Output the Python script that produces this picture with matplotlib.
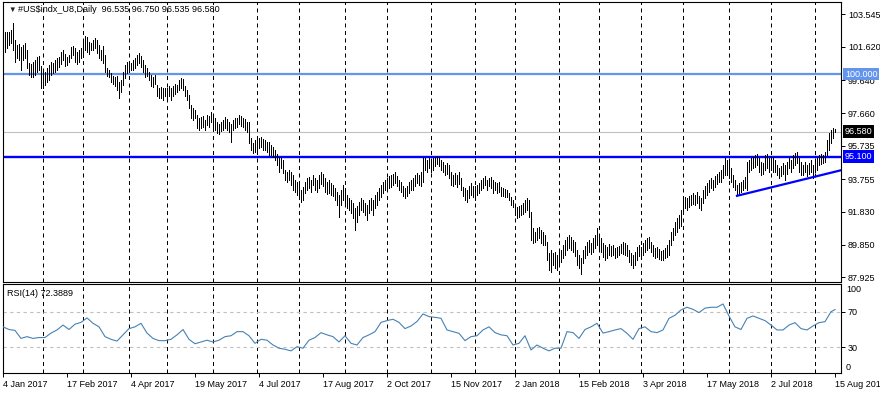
import numpy as np
import pandas as pd
import matplotlib
matplotlib.use("Agg")
import matplotlib.pyplot as plt
import matplotlib.transforms as mtransforms

plt.rcParams['font.family'] = ['Liberation Sans', 'DejaVu Sans']

# trading days shown on the chart (futures closed on these days)
holidays = ['2017-04-14', '2017-12-25', '2018-01-01', '2018-03-30']
dates = pd.bdate_range('2017-01-04', '2018-08-15').drop(pd.to_datetime(holidays))

# daily highs
highs = [
    # Jan 2017
    103.50, 102.49, 102.49, 102.49, 102.61, 103.03, 102.02, 101.72, 101.78, 101.60,
    101.72, 101.84, 101.43, 100.65, 100.59, 100.71, 100.83, 101.01, 101.07, 100.48,
    # Feb
    100.24, 100.12, 100.36, 100.53, 100.71, 100.65, 100.83, 100.95, 101.01, 101.31,
    101.43, 101.19, 101.01, 101.13, 101.60, 101.66, 101.54, 101.31, 101.43, 101.54,
    # Mar
    101.90, 102.26, 102.20, 101.90, 101.84, 102.02, 102.14, 102.02, 101.72, 101.43,
    101.66, 101.13, 100.36, 100.24, 100.06, 99.88, 99.82, 99.88, 99.52, 99.64,
    100.12, 100.53, 100.71,
    # Apr
    100.71, 100.65, 100.83, 100.95, 101.13, 101.25, 101.07, 100.83, 100.53, 100.36,
    100.12, 99.94, 99.82, 99.94, 99.35, 99.17, 99.23, 99.17, 99.17,
    # May
    99.17, 99.29, 99.17, 99.29, 99.41, 99.35, 99.64, 99.76, 99.70, 99.29,
    99.05, 98.75, 98.16, 97.98, 97.86, 97.57, 97.39, 97.45, 97.51, 97.27,
    97.57, 97.51, 97.74,
    # Jun
    97.51, 97.39, 97.15, 97.03, 97.15, 97.27, 97.45, 97.33, 97.15, 97.03,
    97.27, 97.39, 97.39, 97.57, 97.51, 97.39, 97.33, 97.15, 97.15, 96.20,
    95.90, 96.08,
    # Jul
    96.08, 96.20, 96.26, 96.14, 96.08, 95.96, 95.96, 95.78, 95.66, 95.49,
    95.25, 95.07, 95.01, 94.89, 94.30, 94.18, 94.30, 94.18, 94.00, 93.71,
    93.59,
    # Aug
    93.41, 93.11, 93.29, 93.59, 93.82, 93.88, 93.71, 94.00, 93.82, 93.71,
    94.00, 94.18, 94.06, 93.82, 93.59, 93.71, 93.53, 93.41, 93.23, 92.99,
    92.81, 93.11, 93.41,
    # Sep
    93.23, 92.81, 92.64, 92.52, 92.34, 92.04, 92.16, 92.40, 92.64, 92.52,
    92.34, 92.22, 92.52, 92.64, 92.52, 92.81, 92.99, 93.23, 93.41, 93.59,
    93.71,
    # Oct
    93.82, 93.94, 94.00, 94.06, 94.18, 93.94, 93.71, 93.59, 93.35, 93.23,
    93.35, 93.59, 93.71, 93.82, 94.00, 94.12, 94.00, 94.18, 95.07, 95.01,
    94.89, 95.01,
    # Nov
    94.89, 95.01, 95.07, 95.13, 95.07, 94.89, 94.77, 94.60, 94.71, 94.60,
    94.18, 94.00, 94.12, 94.00, 94.18, 93.82, 93.29, 93.23, 93.11, 93.35,
    93.53, 93.35,
    # Dec
    93.35, 93.41, 93.53, 93.71, 93.82, 93.94, 93.71, 93.82, 93.88, 93.71,
    93.59, 93.53, 93.59, 93.29, 93.23, 93.17, 93.11, 92.93, 92.70, 92.52,
    # Jan 2018
    92.22, 92.10, 92.16, 92.22, 92.34, 92.52, 92.64, 92.52, 91.81, 90.86,
    90.62, 90.86, 90.92, 90.74, 90.62, 90.44, 90.02, 89.37, 89.55, 89.37,
    89.43, 89.25,
    # Feb
    89.43, 89.55, 89.85, 90.14, 90.32, 90.44, 90.32, 90.14, 90.02, 89.55,
    89.25, 89.07, 89.55, 89.79, 90.02, 90.14, 89.96, 90.26, 90.44, 90.86,
    # Mar
    90.44, 90.26, 89.96, 89.85, 89.73, 89.90, 89.79, 89.85, 89.67, 89.73,
    89.79, 89.90, 90.02, 89.96, 89.85, 89.55, 89.37, 89.25, 89.43, 89.73,
    89.85,
    # Apr
    89.73, 89.96, 90.14, 90.26, 90.32, 90.02, 89.85, 89.67, 89.73, 89.61,
    89.49, 89.55, 89.67, 89.85, 90.14, 90.62, 90.86, 91.21, 91.45, 91.63,
    91.92,
    # May
    92.52, 92.70, 92.64, 92.76, 92.81, 92.93, 92.81, 92.99, 92.76, 92.64,
    93.11, 93.35, 93.53, 93.71, 93.82, 93.71, 93.94, 94.06, 94.18, 94.30,
    94.60, 95.01, 94.89,
    # Jun
    94.77, 94.42, 94.00, 93.71, 93.41, 93.53, 93.59, 93.71, 93.88, 94.77,
    94.89, 95.01, 95.07, 95.19, 95.25, 95.01, 94.77, 94.71, 95.19, 95.25,
    95.01,
    # Jul
    95.13, 95.07, 94.89, 94.60, 94.42, 94.54, 94.71, 94.60, 94.77, 95.07,
    94.89, 95.19, 95.31, 95.37, 95.01, 94.77, 94.60, 94.77, 94.60, 94.71,
    94.89, 94.60,
    # Aug
    94.89, 95.01, 95.19, 95.25, 95.19, 95.37, 96.08, 96.50, 96.67, 96.79,
    96.75,
]

# daily lows
lows = [
    # Jan 2017
    102.44, 101.31, 101.54, 101.72, 101.84, 101.43, 100.71, 100.95, 100.83, 100.24,
    100.83, 100.95, 100.36, 99.94, 99.82, 99.82, 99.94, 100.12, 100.24, 99.17,
    # Feb
    99.17, 99.35, 99.52, 99.64, 99.94, 100.06, 100.12, 100.24, 100.42, 100.59,
    100.83, 100.48, 100.53, 100.71, 100.95, 101.13, 100.71, 100.59, 100.71, 100.95,
    # Mar
    101.01, 101.43, 101.31, 101.19, 101.43, 101.43, 101.54, 101.25, 100.95, 100.83,
    100.65, 100.12, 99.88, 99.82, 99.52, 99.41, 99.29, 99.05, 98.57, 98.93,
    99.35, 99.76, 100.06,
    # Apr
    100.12, 100.24, 100.24, 100.36, 100.53, 100.65, 100.42, 100.12, 99.82, 99.88,
    99.64, 99.29, 99.23, 99.41, 98.69, 98.57, 98.57, 98.46, 98.69,
    # May
    98.57, 98.69, 98.46, 98.69, 98.81, 98.93, 99.05, 99.17, 99.05, 98.69,
    98.46, 97.98, 97.39, 97.27, 97.39, 96.79, 96.67, 96.79, 96.85, 96.67,
    96.97, 96.85, 97.15,
    # Jun
    96.79, 96.67, 96.50, 96.44, 96.62, 96.67, 96.79, 96.67, 96.56, 95.96,
    96.67, 96.79, 96.85, 97.03, 96.91, 96.85, 96.67, 96.56, 95.90, 95.49,
    95.31, 95.37,
    # Jul
    95.31, 95.61, 95.66, 95.49, 95.49, 95.37, 95.19, 95.19, 95.07, 94.89,
    94.60, 94.18, 94.42, 94.12, 93.71, 93.59, 93.71, 93.41, 93.11, 92.99,
    92.81,
    # Aug
    92.64, 92.40, 92.52, 92.93, 93.11, 93.23, 92.99, 93.41, 93.11, 92.99,
    93.23, 93.47, 93.35, 92.99, 92.87, 92.93, 92.81, 92.76, 92.52, 92.22,
    91.51, 92.22, 92.52,
    # Sep
    92.22, 92.04, 91.92, 91.75, 91.45, 90.74, 91.21, 91.63, 91.92, 91.81,
    91.63, 91.33, 91.75, 91.92, 91.63, 92.04, 92.22, 92.52, 92.70, 92.93,
    93.11,
    # Oct
    93.11, 93.23, 93.29, 93.41, 93.53, 93.35, 93.11, 92.99, 92.76, 92.64,
    92.76, 92.93, 93.11, 93.11, 93.35, 93.53, 93.41, 93.35, 93.59, 94.30,
    94.18, 94.42,
    # Nov
    94.18, 94.30, 94.54, 94.66, 94.54, 94.30, 94.18, 94.00, 94.06, 93.82,
    93.41, 93.35, 93.47, 93.29, 93.47, 93.11, 92.76, 92.52, 92.40, 92.64,
    92.81, 92.70,
    # Dec
    92.52, 92.81, 92.93, 93.11, 93.23, 93.41, 93.11, 93.35, 93.23, 92.93,
    93.11, 92.93, 92.99, 92.76, 92.76, 92.70, 92.70, 92.52, 92.22, 92.10,
    # Jan 2018
    91.63, 91.45, 91.51, 91.63, 91.69, 91.81, 91.92, 91.51, 90.14, 89.96,
    90.02, 90.14, 90.26, 89.96, 89.85, 89.85, 88.96, 88.36, 88.24, 88.66,
    88.48, 88.36,
    # Feb
    88.60, 88.84, 89.07, 89.25, 89.55, 89.67, 89.55, 89.43, 89.19, 88.66,
    88.48, 88.12, 88.78, 89.07, 89.25, 89.43, 89.31, 89.43, 89.67, 89.85,
    # Mar
    89.67, 89.43, 89.13, 88.96, 89.07, 89.25, 89.19, 89.25, 89.07, 89.13,
    89.25, 89.37, 89.31, 89.25, 89.19, 88.84, 88.66, 88.48, 88.66, 88.96,
    89.19,
    # Apr
    89.07, 89.25, 89.43, 89.55, 89.67, 89.43, 89.19, 89.07, 89.13, 89.02,
    88.96, 88.96, 89.07, 89.13, 89.25, 89.85, 90.14, 90.44, 90.62, 90.86,
    90.97,
    # May
    91.81, 92.04, 91.92, 92.10, 92.22, 92.28, 92.22, 92.34, 92.04, 91.92,
    92.34, 92.64, 92.81, 92.99, 93.23, 93.11, 93.29, 93.47, 93.59, 93.59,
    93.82, 94.00, 94.00,
    # Jun
    93.82, 93.59, 93.29, 93.11, 92.81, 92.87, 92.99, 93.11, 93.23, 93.11,
    94.18, 94.30, 94.42, 94.48, 94.60, 94.18, 94.00, 94.06, 94.30, 94.42,
    94.18,
    # Jul
    94.30, 94.18, 94.18, 94.00, 93.82, 93.94, 94.06, 93.71, 94.06, 94.42,
    94.18, 94.42, 94.60, 94.71, 94.18, 94.00, 94.00, 94.18, 93.94, 94.06,
    94.18, 93.82,
    # Aug
    94.18, 94.30, 94.60, 94.66, 94.71, 94.77, 95.19, 95.49, 95.90, 96.20,
    96.535,
]

# RSI(14), every third bar (plus the last bar)
rsi_idx = list(range(0, 417, 3)) + [416]
rsi_vals = [
    53, 50, 49, 40, 42, 40, 41, 41, 46, 49.5, 55, 50, 56, 58, 63, 57, 53, 42, 39, 37,
    44, 51, 53, 57, 46, 40, 37.5, 37.5, 39, 44, 50, 39, 34, 36, 38, 36, 38, 42, 43, 47.6,
    47.6, 43, 34.5, 39, 38, 32.6, 29, 27.8, 26, 30.7, 29, 38, 41, 46.5, 44, 42, 36, 43, 34.5, 32.6,
    41, 44, 47.6, 58, 60, 61.5, 58, 51, 54, 59, 67.5, 64.5, 63.7, 62.6, 49.5, 47.6, 45.7, 37.5, 42, 43,
    49.5, 53, 46.5, 44, 43, 32.6, 34.5, 43, 27, 32.6, 29, 26, 29, 29, 47.6, 46.5, 40, 50, 53, 57,
    46, 47.6, 49.5, 51, 45.7, 39, 51, 53, 47.6, 46.5, 49.5, 62.6, 66, 72, 75, 72.7, 69, 74, 75, 75,
    78.7, 65.2, 53, 50, 62.6, 65.2, 62.6, 60, 55, 49.5, 49.5, 55, 57.7, 51, 49.5, 54, 57.7, 58.8, 70, 72.4,
]

# right-hand price scale labels
price_ticks = [103.545, 101.620, 99.640, 97.660, 95.735, 93.755, 91.830, 89.850, 87.925]
level_100 = 100.0
level_951 = 95.1
bid = 96.58
header = "#US$indx_U8,Daily  96.535 96.750 96.535 96.580"
rsi_label = "RSI(14) 72.3889"

# rising support line: two anchor bars and their prices
trend_idx = [367, 416]
trend_px = [92.77, 94.20]

hi = np.array(highs)
lo = np.array(lows)
idx = np.arange(len(dates))

month_starts = [i for i in range(1, len(dates)) if dates[i].month != dates[i - 1].month]

W, H = 880, 395
fig = plt.figure(figsize=(W / 100, H / 100), dpi=100)
fig.patch.set_facecolor('white')
left, right = 2.5, 841
ax = fig.add_axes([left / W, 1 - 281.7 / H, (right - left) / W, (281.7 - 2.3) / H])
ax2 = fig.add_axes([left / W, 1 - 373.3 / H, (right - left) / W, (373.3 - 283.5) / H])

xmax = 419
for a in (ax, ax2):
    a.set_xlim(-0.25, xmax)
    for s in a.spines.values():
        s.set_color('black')
        s.set_linewidth(0.8)
    for i in month_starts:
        a.axvline(i, color='black', lw=0.72, ls=(0, (4, 3.5)), zorder=1)
    a.yaxis.tick_right()
    a.tick_params(axis='y', direction='out', length=3, width=0.7, labelsize=6.5, pad=2)

# ---- price panel
ax.set_ylim(87.67, 104.26)
ax.set_xticks([])
ax.set_yticks(price_ticks)
ax.set_yticklabels([f"{p:.3f}" for p in price_ticks])

ax.axhline(bid, color='#C0C0C0', lw=0.8, zorder=1.5)
ax.axhline(level_100, color='#6495ED', lw=1.6, zorder=1.6)
ax.axhline(level_951, color='#0000FF', lw=1.7, zorder=1.6)
ax.vlines(idx, lo, hi, colors='black', lw=0.5, antialiased=False, zorder=2)

slope = (trend_px[1] - trend_px[0]) / (trend_idx[1] - trend_idx[0])
ax.plot([trend_idx[0], xmax], [trend_px[0], trend_px[0] + slope * (xmax - trend_idx[0])],
        color='#0000FF', lw=1.6, zorder=2.2)

lab_tr = mtransforms.offset_copy(mtransforms.blended_transform_factory(ax.transAxes, ax.transData),
                                 fig=fig, x=4, y=0, units='dots')
for val, fc in [(level_100, '#6495ED'), (bid, 'black'), (level_951, '#0000FF')]:
    ax.text(1.0, val, f"{val:.3f}", transform=lab_tr, ha='left', va='center', fontsize=6.5,
            color='white', clip_on=False, zorder=10,
            bbox=dict(boxstyle='square,pad=0.2', fc=fc, ec='none'))

fig.text(8 / W, 1 - 10 / H, "\u25bc", fontsize=5.5, ha='left', va='center', color='#202020')
fig.text(18 / W, 1 - 10 / H, header, fontsize=6.5, ha='left', va='center', color='black',
         parse_math=False)

# ---- RSI panel
ax2.set_ylim(0.8, 101.7)
ax2.axhline(70, color='#C0C0C0', lw=0.8, ls=(0, (3, 3)), zorder=1)
ax2.axhline(30, color='#C0C0C0', lw=0.8, ls=(0, (3, 3)), zorder=1)
ax2.plot(rsi_idx, rsi_vals, color='#4682B4', lw=0.8, zorder=3)
ax2.set_yticks([70, 30])
ax2.set_yticklabels(['70', '30'])
ax2.text(1.0, 0.928, "100", transform=mtransforms.offset_copy(ax2.transAxes, fig=fig, x=5, y=0, units='dots'),
         ha='left', va='center', fontsize=6.5, clip_on=False)
ax2.text(1.0, 0.067, "0", transform=mtransforms.offset_copy(ax2.transAxes, fig=fig, x=5, y=0, units='dots'),
         ha='left', va='center', fontsize=6.5, clip_on=False)
ax2.text((7 - left) / (right - left), 0.894, rsi_label, transform=ax2.transAxes,
         ha='left', va='center', fontsize=6.5)

tick_pos = idx[::32]
tick_lab = [f"{d.day} {d.strftime('%b %Y')}" for d in dates[::32]]
ax2.set_xticks(tick_pos)
ax2.set_xticklabels(tick_lab, ha='left')
ax2.tick_params(axis='x', direction='out', length=3, width=0.7, labelsize=6.5, pad=1.5)

fig.savefig("out.png", dpi=100)
